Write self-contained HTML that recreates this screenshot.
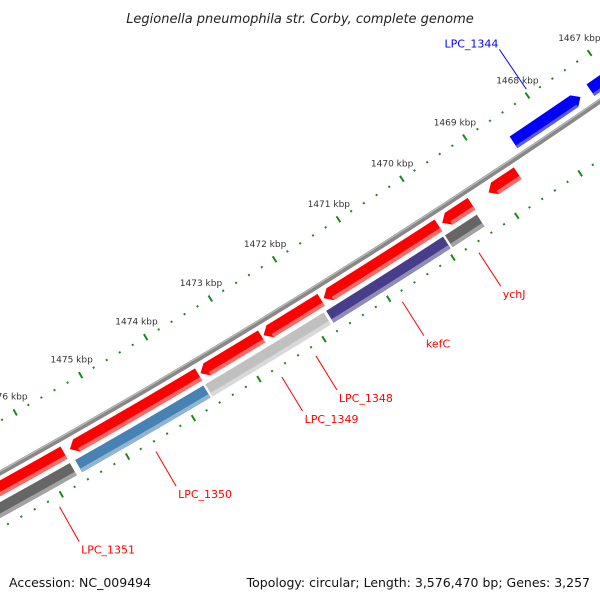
<!DOCTYPE html>
<html><head><meta charset="utf-8"><style>
html,body{margin:0;padding:0;background:#fff;}
svg{display:block;font-family:"DejaVu Sans","Liberation Sans",sans-serif;}
</style></head><body>
<svg id="map" width="600" height="600" viewBox="0 0 600 600" xmlns="http://www.w3.org/2000/svg">
<rect width="600" height="600" fill="#fff"/>
<text x="300" y="23" text-anchor="middle" font-size="13" font-style="italic" fill="#222">Legionella pneumophila str. Corby, complete genome</text>
<g id="layer"></g>
<text x="9" y="587" font-size="12.5" fill="#111">Accession: NC_009494</text>
<text x="590" y="587" text-anchor="end" font-size="12.5" fill="#111">Topology: circular; Length: 3,576,470 bp; Genes: 3,257</text>
</svg>
<script>
// data (kbp positions)
const tickKbp = [1465,1466,1467,1468,1469,1470,1471,1472,1473,1474,1475,1476,1477];
const redStarts = [1468.68,1469.41,1469.93,1471.76,1472.68,1473.65,1475.70];
const redEnds   = [1469.14,1469.87,1471.72,1472.65,1473.62,1475.61,1477.60];
const grayNames = ['ychJ','kefC','LPC_1349','LPC_1350','LPC_1351'];
const grayStarts = [1469.43,1469.96,1471.82,1473.67,1475.70];
const grayEnds   = [1469.93,1471.78,1473.64,1475.62,1477.60];
const grayColors = ['#666666','#483d8b','#c0c0c0','#4682b4','#666666'];
const blueNames = ['LPC_1343','LPC_1344'];
const blueStarts = [1465.2,1467.43];
const blueEnds   = [1467.27,1468.50];
const redLabelNames = ['LPC_1348'];
const redLabelIdx = [3];

const CX=-3559, CY=-5939, K0=1468, A0=55.895, DEG=0.5921;
const NS='http://www.w3.org/2000/svg';
const layer=document.getElementById('layer');
function ang(k){return (A0+(k-K0)*DEG)*Math.PI/180;}
function pt(k,r){const a=ang(k);return [CX+r*Math.cos(a),CY+r*Math.sin(a)];}
function f(p){return p[0].toFixed(2)+' '+p[1].toFixed(2);}
function mk(tag,attrs){const e=document.createElementNS(NS,tag);for(const k in attrs)e.setAttribute(k,attrs[k]);layer.appendChild(e);return e;}
function band(a,b,r1,r2){return 'M'+f(pt(a,r1))+' A'+r1+' '+r1+' 0 0 1 '+f(pt(b,r1))+' L'+f(pt(b,r2))+' A'+r2+' '+r2+' 0 0 0 '+f(pt(a,r2))+' Z';}
function arrowHi(a,b,r1,r2,h){const m=(r1+r2)/2;return 'M'+f(pt(a,r1))+' A'+r1+' '+r1+' 0 0 1 '+f(pt(b-h,r1))+' L'+f(pt(b,m))+' L'+f(pt(b-h,r2))+' A'+r2+' '+r2+' 0 0 0 '+f(pt(a,r2))+' Z';}
function arrowLo(a,b,r1,r2,h){const m=(r1+r2)/2;return 'M'+f(pt(a+h,r1))+' A'+r1+' '+r1+' 0 0 1 '+f(pt(b,r1))+' L'+f(pt(b,r2))+' A'+r2+' '+r2+' 0 0 0 '+f(pt(a+h,r2))+' L'+f(pt(a,m))+' Z';}
function lighten(c){const n=parseInt(c.slice(1),16);let r=n>>16,g=(n>>8)&255,b=n&255;r=Math.round(r+(255-r)*0.4);g=Math.round(g+(255-g)*0.4);b=Math.round(b+(255-b)*0.4);return 'rgb('+r+','+g+','+b+')';}

// backbone
const bb=mk('path',{d:'M'+f(pt(1464,7333.5))+' A7333.5 7333.5 0 0 1 '+f(pt(1478,7333.5)),fill:'none',stroke:'#888',"stroke-width":5});


const bh=mk('path',{d:'M'+f(pt(1464,7332))+' A7332 7332 0 0 1 '+f(pt(1478,7332)),fill:'none',stroke:'#bbb',"stroke-width":1.2});



// ticks
[7288,7382].forEach((r,ri)=>{
  for(let i=0;i<tickKbp.length;i++){
    for(let j=0;j<5;j++){
      const k=tickKbp[i]+j*0.2;
      const L=j===0?3.5:1;
      const t=mk('path',{d:'M'+f(pt(k,r-L))+' L'+f(pt(k,r+L)),stroke:'#1a8a1a',"stroke-width":2});
      
      
    }
  }
});
tickKbp.forEach(k=>{
  const p=pt(k,7270);
  const t=mk('text',{x:p[0].toFixed(1),y:(p[1]+3).toFixed(1),"text-anchor":"middle","font-size":"9",fill:'#333'});
  t.textContent=k+' kbp';
  
  
});

// blue features (outer track)
for(let i=0;i<blueStarts.length;i++){
  const e=mk('path',{d:arrowLo(blueStarts[i],blueEnds[i],7312,7326,0.1),fill:'#0000ff'});
  
  
  const s=mk('path',{d:band(blueStarts[i]+0.1,blueEnds[i],7323,7326),fill:'#5a5aff'});
  
  
  const mid=(blueStarts[i]+blueEnds[i])/2;
  const p1=pt(mid,7282),p2=pt(mid,7234);
  const ln=mk('path',{d:'M'+f(p1)+' L'+f(p2),stroke:'#0000ff',"stroke-width":1});
  
  
  const tx=mk('text',{x:(p2[0]-1).toFixed(1),y:(p2[1]-2).toFixed(1),"text-anchor":"end","font-size":"11",fill:'#0000ff'});
  tx.textContent=blueNames[i];
  
  
}

// red features
for(let i=0;i<redStarts.length;i++){
  const e=mk('path',{d:arrowHi(redStarts[i],redEnds[i],7340,7354,0.1),fill:'#ff0000'});
  
  
  const s=mk('path',{d:band(redStarts[i],redEnds[i]-0.1,7350,7354),fill:'#ff6a6a'});
  
  
}
function redLabel(name,mid){
  const p1=pt(mid,7392),p2=pt(mid,7432);
  const ln=mk('path',{d:'M'+f(p1)+' L'+f(p2),stroke:'#ff0000',"stroke-width":1});
  
  
  const tx=mk('text',{x:(p2[0]+2).toFixed(1),y:(p2[1]+12).toFixed(1),"font-size":"11",fill:'#ff0000'});
  tx.textContent=name;
  
  
}
for(let i=0;i<redLabelNames.length;i++){const j=redLabelIdx[i];redLabel(redLabelNames[i],(redStarts[j]+redEnds[j])/2);}

// gray/colored track
for(let i=0;i<grayStarts.length;i++){
  const e=mk('path',{d:band(grayStarts[i],grayEnds[i],7359,7373),fill:grayColors[i]});
  
  
  const s=mk('path',{d:band(grayStarts[i],grayEnds[i],7369,7373),fill:lighten(grayColors[i])});
  
  
  const mid=(grayStarts[i]+grayEnds[i])/2;
  redLabel(grayNames[i], i===4?1476.1:mid);
}
</script>
</body></html>
